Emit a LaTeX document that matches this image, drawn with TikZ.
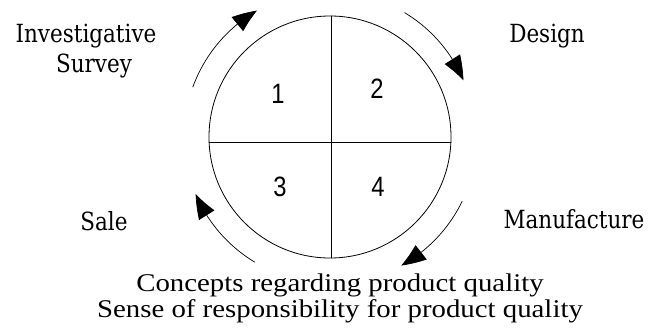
\documentclass[tikz,border=0pt]{standalone}
\usepackage{fontspec}
\setmainfont{Liberation Serif}
\newfontfamily\lblfont[FakeStretch=0.86]{DejaVu Serif}
\newfontfamily\numfont{Liberation Sans}
\usetikzlibrary{arrows.meta,bending,positioning}
\begin{document}
\begin{tikzpicture}[x=1pt,y=1pt,line join=round,line cap=round,line width=0.8pt,
	>={Triangle[length=24pt,width=18pt,bend]},
	lbl/.style={anchor=base,inner sep=0pt,font=\lblfont\fontsize{25}{30}\selectfont},
	num/.style={inner sep=0pt,xscale=0.85,font=\numfont\fontsize{28}{30}\selectfont},
	captext/.style={anchor=base,inner sep=0pt,xscale=1.13,font=\fontsize{25.5}{30}\selectfont},
	cyc/.style={->,line width=0.7pt}]
	\useasboundingbox (0,0) rectangle (650,333);
	% wheel
	\coordinate (c) at (330,196);
	\draw (c) circle[radius=121];
	\draw (331,317)--(331,75) (209,191)--(451,191);
	\node[num] (n1) at (278,239) {1};
	\node[num] (n2) at (377,244) {2};
	\node[num] (n3) at (280,146) {3};
	\node[num] (n4) at (378,146) {4};
	% turning arrows
	\draw[cyc] (c) ++(160:146) arc[start angle=160,end angle=120,radius=146];
	\draw[cyc] (c) ++(59:145) arc[start angle=59,end angle=23,radius=145];
	\draw[cyc] (c) ++(-26:147) arc[start angle=-26,end angle=-61,radius=147];
	\draw[cyc] (c) ++(-121:146) arc[start angle=-121,end angle=-157,radius=146];
	% stages
	\node[lbl] (invest) at (86,291) {Investigative};
	\node[lbl] (survey) at (94,261) {Survey};
	\node[lbl] (design) at (547,291) {Design};
	\node[lbl] (sale) at (104,103) {Sale};
	\node[lbl] (manuf) at (574,105) {Manufacture};
	% caption
	\node[captext] (concepts) at (340,42) {Concepts regarding product quality};
	\node[captext] (sense) at (340,16) {Sense of responsibility for product quality};
\end{tikzpicture}
\end{document}
